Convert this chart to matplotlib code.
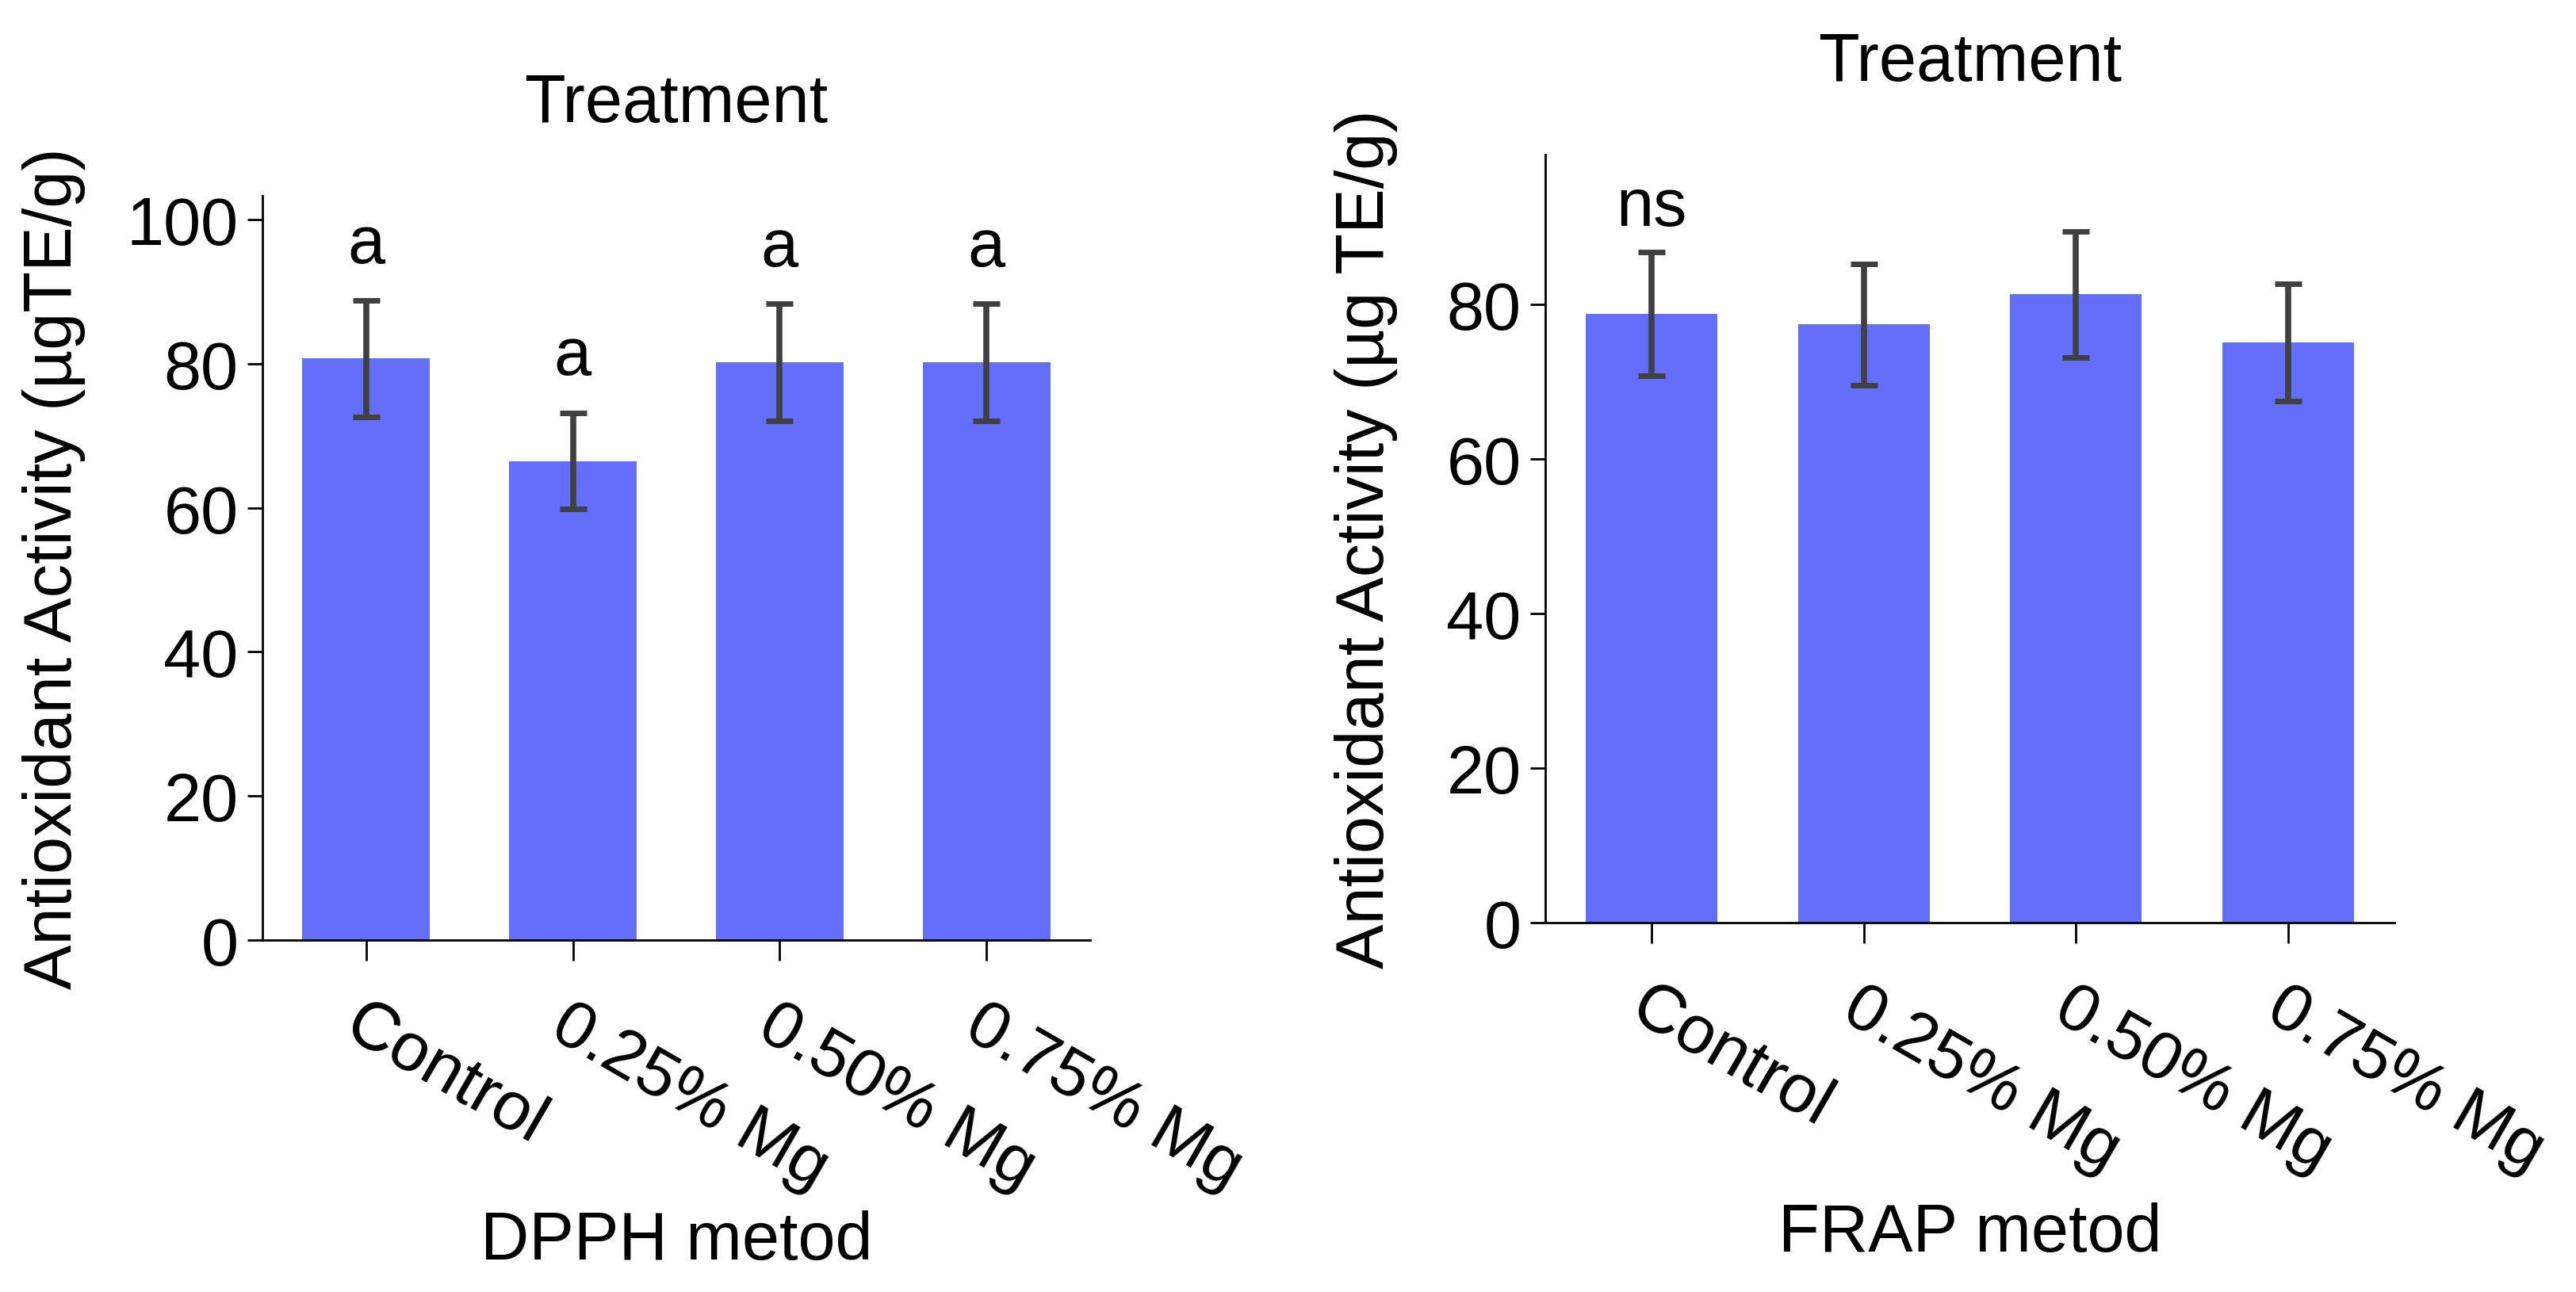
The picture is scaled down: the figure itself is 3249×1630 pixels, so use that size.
import numpy as np
import matplotlib
matplotlib.use('Agg')
import matplotlib.pyplot as plt

plt.rcParams['font.family'] = ['Liberation Sans', 'DejaVu Sans']

# data
treatments = ['Control', '0.25% Mg', '0.50% Mg', '0.75% Mg']
dpph_mean = [80.7, 66.5, 80.2, 80.2]
dpph_err = [8.1, 6.7, 8.1, 8.1]
dpph_letters = ['a', 'a', 'a', 'a']
frap_mean = [78.8, 77.4, 81.3, 75.1]
frap_err = [8.0, 7.8, 8.2, 7.6]

bar_color = '#636efa'
err_color = '#404040'
fs = 61

fig = plt.figure(figsize=(32.49, 16.31), dpi=100)
ax1 = fig.add_axes([331 / 3249, 1 - 1187 / 1631, 1044 / 3249, 939 / 1631])
ax2 = fig.add_axes([1949 / 3249, 1 - 1165 / 1631, 1071 / 3249, 969 / 1631])


def draw_panel(ax, means, errs, ylim, xlabel, ylabel, ylab_x):
    x = np.arange(len(treatments))
    ax.bar(x, means, width=0.62, color=bar_color, zorder=2)
    ax.errorbar(x, means, yerr=errs, fmt='none', ecolor=err_color,
                elinewidth=5.5, capsize=12, capthick=5, zorder=3)
    ax.set_xlim(-0.5, 3.5)
    ax.set_ylim(*ylim)
    ax.set_xticks(x)
    ax.set_xticklabels(treatments, rotation=-30, ha='left', va='top',
                       rotation_mode='anchor', fontsize=fs + 1)
    ax.tick_params(axis='y', labelsize=fs, length=14, width=2, pad=8)
    ax.tick_params(axis='x', length=19, width=2, pad=28)
    for s in ['top', 'right']:
        ax.spines[s].set_visible(False)
    for s in ['left', 'bottom']:
        ax.spines[s].set_linewidth(2)
    ax.set_title('Treatment', fontsize=fs, pad=68)
    ax.set_xlabel(xlabel, fontsize=fs, va='center')
    ax.xaxis.set_label_coords(0.5, -0.405)
    ax.set_ylabel(ylabel, fontsize=fs, va='center')
    ax.yaxis.set_label_coords(ylab_x, 0.5)


draw_panel(ax1, dpph_mean, dpph_err, (0, 103.3), 'DPPH metod',
           'Antioxidant Activity (µgTE/g)', -0.252)
ax1.set_yticks([0, 20, 40, 60, 80, 100])
for i, (m, e, t) in enumerate(zip(dpph_mean, dpph_err, dpph_letters)):
    ax1.text(i, m + e + 5.3, t, ha='center', va='baseline', fontsize=fs)

draw_panel(ax2, frap_mean, frap_err, (0, 99.4), 'FRAP metod',
           'Antioxidant Activity (µg TE/g)', -0.211)
ax2.set_yticks([0, 20, 40, 60, 80])
ax2.text(0, frap_mean[0] + frap_err[0] + 3.5, 'ns', ha='center',
         va='baseline', fontsize=fs)

fig.savefig('out.png', dpi=100)
